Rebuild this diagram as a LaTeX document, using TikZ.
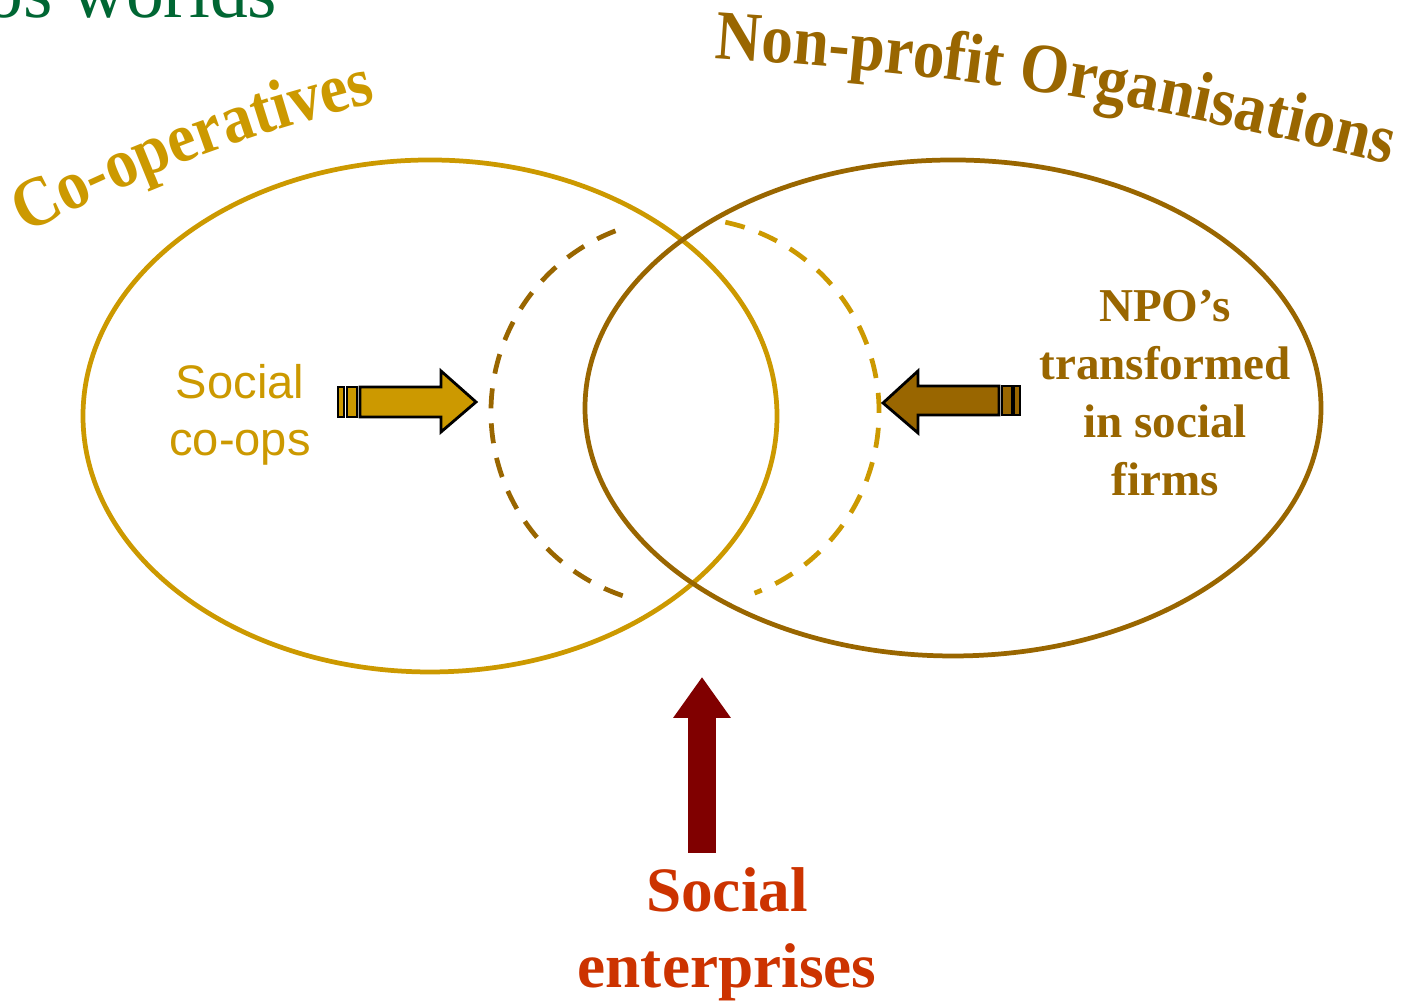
\documentclass[tikz,border=0pt]{standalone}
\usepackage{fontspec}
\setmainfont{Liberation Serif}
\newfontfamily\arialfont{Liberation Sans}
\newfontfamily\titleface{Liberation Serif}[FakeStretch=0.9]
\usepackage{tikz}
\usetikzlibrary{arrows.meta,shapes,positioning,decorations.text}
\usepackage{xcolor}

\definecolor{coopgold}{HTML}{CC9900}
\definecolor{npobrown}{HTML}{996600}
\definecolor{sered}{HTML}{CC3300}
\definecolor{arrowred}{HTML}{800000}
\definecolor{worldgreen}{HTML}{006633}

\newcommand{\titlefont}{\titleface\bfseries\fontsize{20}{22}\selectfont}

\begin{document}
\begin{tikzpicture}[>=Stealth,
    ring/.style={line width=1.35pt},
    dashring/.style={line width=1.35pt, dash pattern=on 0.2cm off 0.15cm},
    blockarrow/.style={draw=black, line width=0.8pt, line join=miter},
    bigarrow/.style={arrowred, line width=0.28cm,
      -{Triangle[length=0.41cm, width=0.55cm]}}]
  \useasboundingbox (0,0) rectangle (14.06,10.03);
  \def\dr{1.94}  % radius of the dashed overlap circle

  % ---- heading, running off the top edge ----
  \node[anchor=base east, inner sep=0, text=worldgreen,
        font=\fontsize{21.5}{24}\selectfont] (heading) at (2.78,9.85) {os worlds};

  % ---- the two sets ----
  \draw[ring, coopgold] (4.30,5.87) ellipse (3.47 and 2.56);
  \draw[ring, npobrown] (9.53,5.95) ellipse (3.68 and 2.48);

  % ---- set names, bent along the top ----
  \path[decorate, decoration={text along path, text align=center,
        text={|\titlefont\color{coopgold}|Co-operatives}}]
    (0.22,7.68) to[bend left=6] (3.80,9.02);
  \path[decorate, decoration={text along path, text align=center,
        text={|\titlefont\color{npobrown}|Non-profit Organisations}}]
    (7.12,9.45) to[bend left=5] (13.92,8.38);

  % ---- dashed overlap: each half in the other set's colour ----
  \coordinate (mid) at (6.85,5.91);
  \draw[dashring, npobrown] (mid) ++(111:\dr) arc[start angle=111, end angle=254, radius=\dr];
  \draw[dashring, coopgold] (mid) ++(78:\dr) arc[start angle=78, end angle=-69, radius=\dr];

  % ---- labels inside the sets ----
  \node[align=center, text=coopgold, font=\arialfont\fontsize{13.4}{16.2}\selectfont]
    (coops) at (2.40,5.88) {Social\\co-ops};
  \node[align=center, text=npobrown, font=\bfseries\fontsize{13.4}{16.5}\selectfont]
    (npos) at (11.65,6.10) {NPO’s\\transformed\\in social\\firms};

  % ---- striped block arrows pointing into the overlap ----
  \path[fill=coopgold, blockarrow] (3.60,6.16) -- (4.41,6.16) -- (4.41,6.32) -- (4.76,6.01)
    -- (4.41,5.71) -- (4.41,5.86) -- (3.60,5.86) -- cycle;
  \foreach \xa/\xb in {3.38/3.44, 3.47/3.57}
    \path[fill=coopgold, blockarrow] (\xa,5.86) rectangle (\xb,6.16);

  \path[fill=npobrown, blockarrow] (9.99,6.17) -- (9.18,6.17) -- (9.18,6.32) -- (8.83,6.00)
    -- (9.18,5.70) -- (9.18,5.88) -- (9.99,5.88) -- cycle;
  \foreach \xa/\xb in {10.02/10.12, 10.14/10.20}
    \path[fill=npobrown, blockarrow] (\xa,5.88) rectangle (\xb,6.17);

  % ---- social enterprises ----
  \node[align=center, inner sep=0, text=sered, font=\bfseries\fontsize{18}{21.6}\selectfont]
    (socent) at (7.27,0.69) {Social\\enterprises};
  \coordinate (overlap) at (7.02,3.26);
  \draw[bigarrow, shorten <=0.14cm] (overlap |- socent.north) -- (overlap);
\end{tikzpicture}
\end{document}
